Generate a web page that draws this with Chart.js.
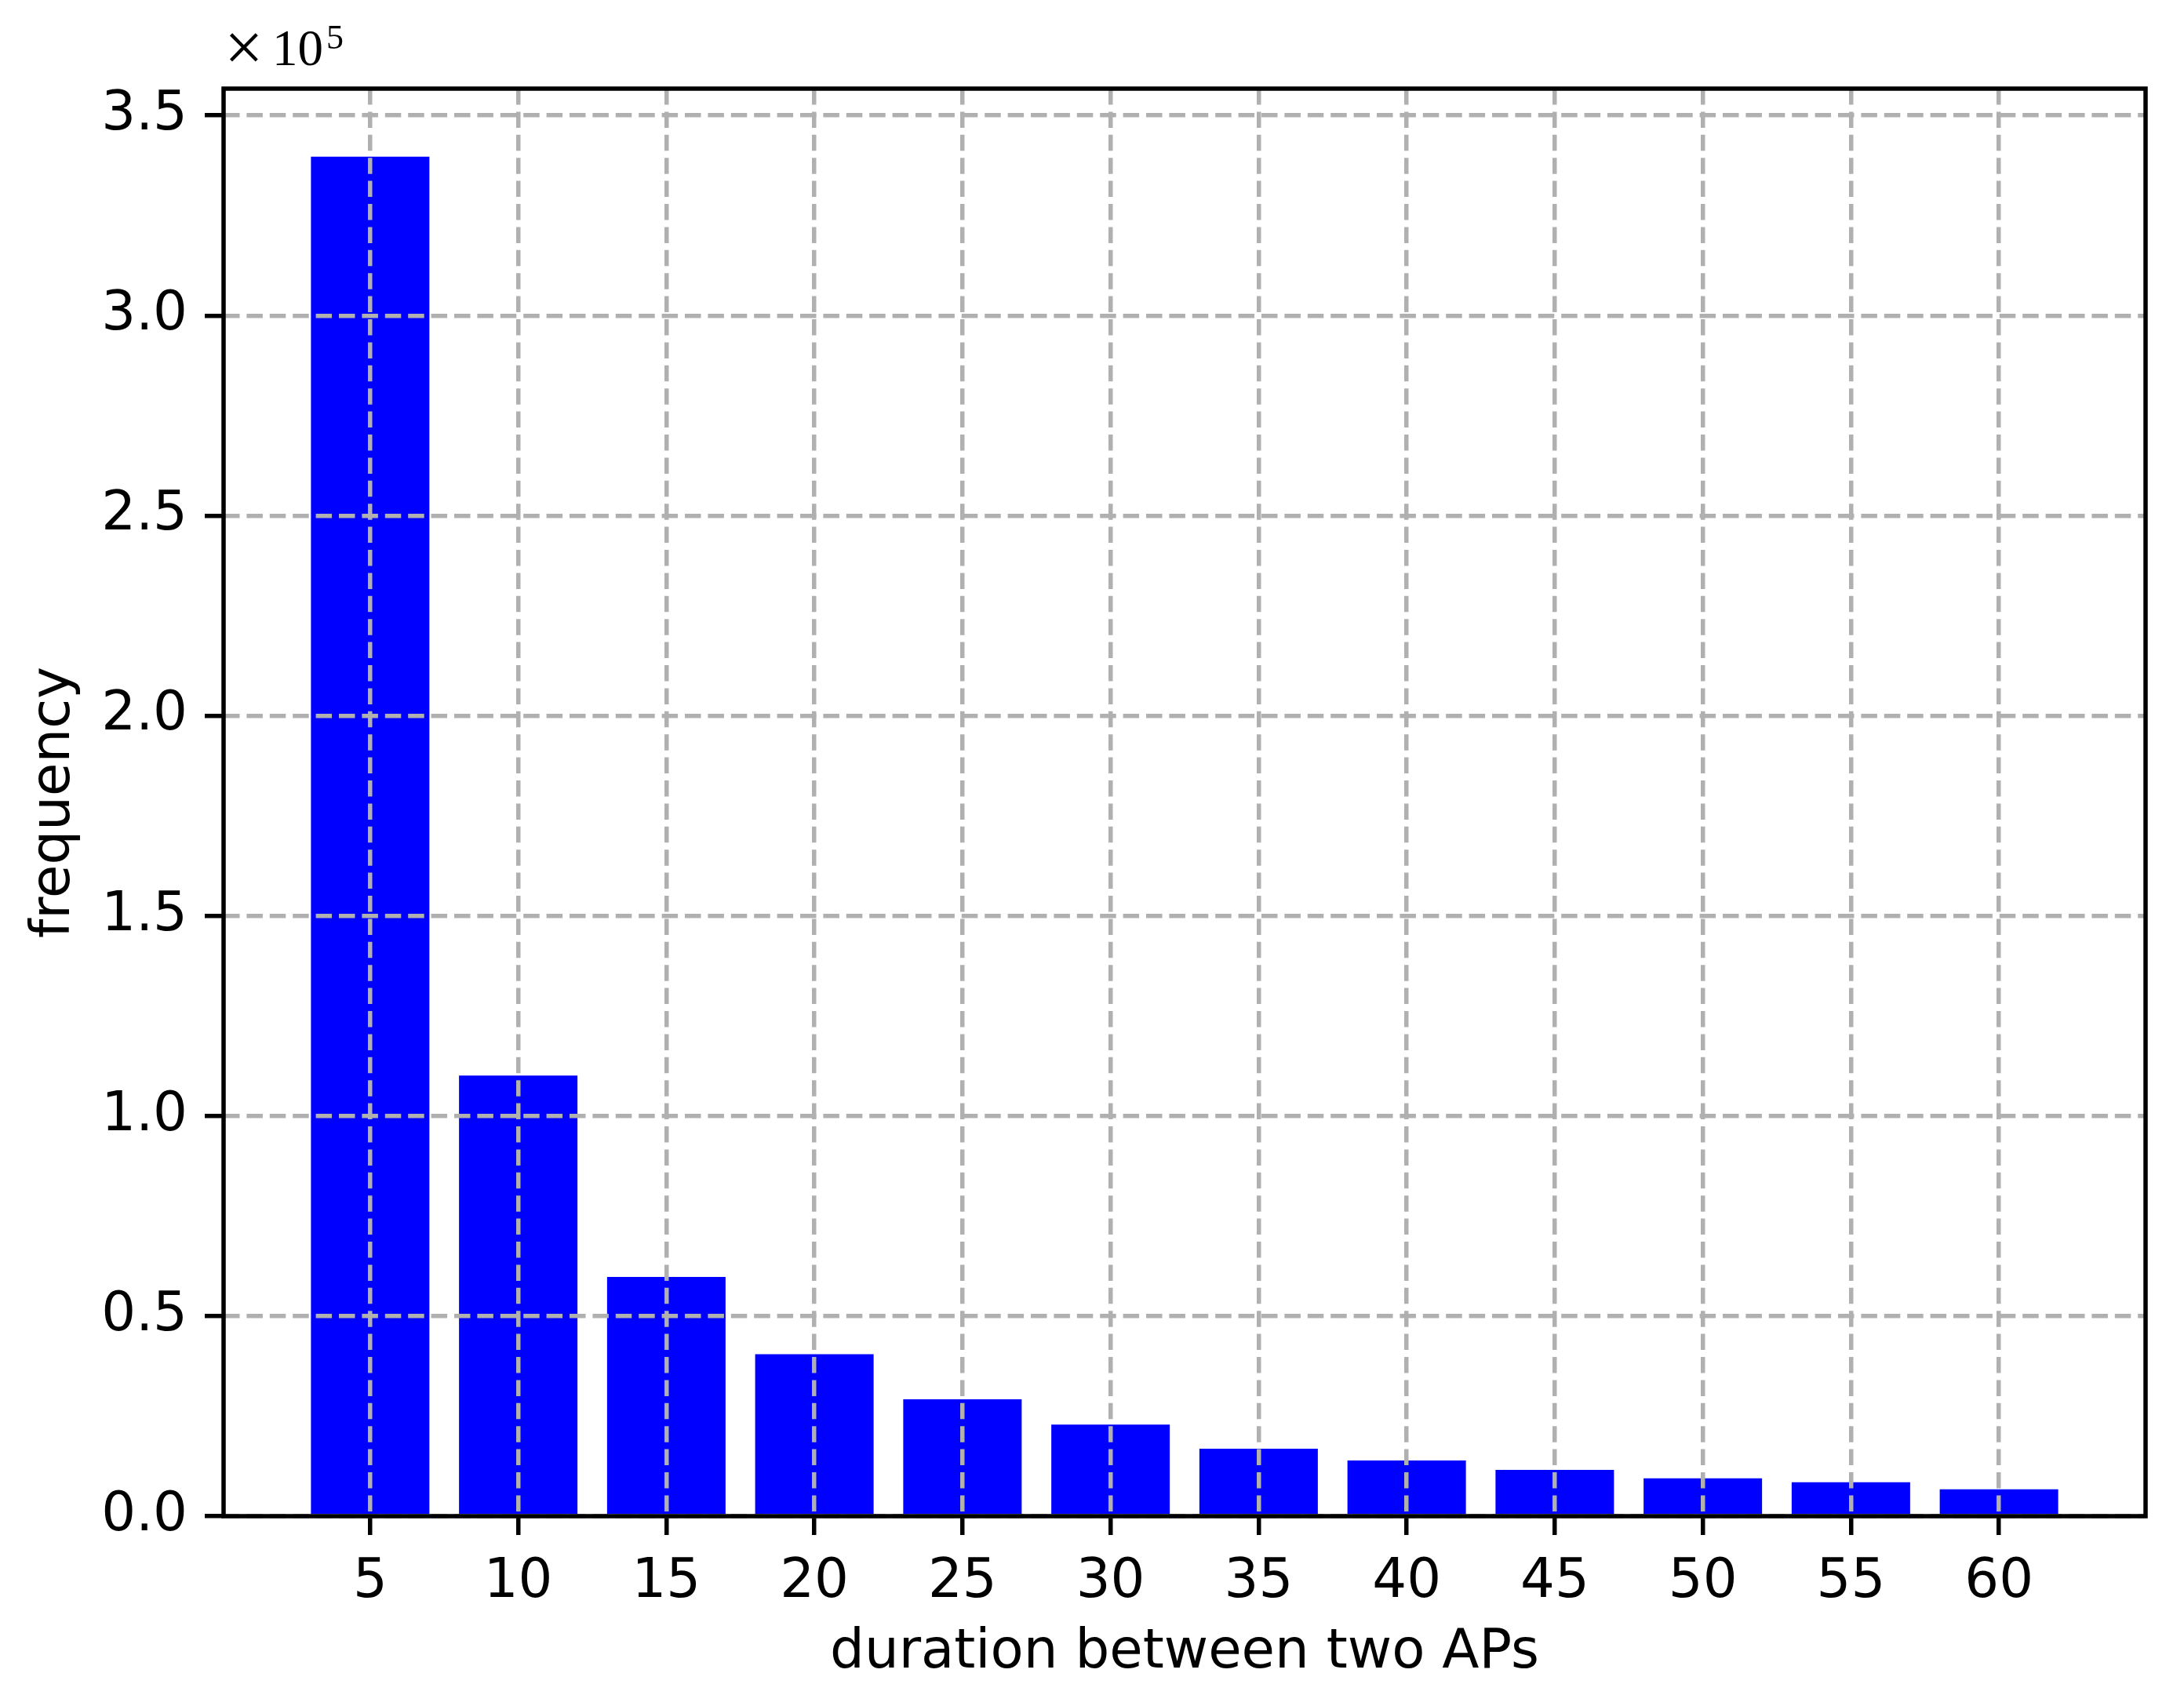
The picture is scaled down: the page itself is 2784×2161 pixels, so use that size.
<!DOCTYPE html>
<html>
<head>
<meta charset="utf-8">
<script src="https://cdn.jsdelivr.net/npm/chart.js@4.4.0/dist/chart.umd.min.js"></script>
<style>
  html, body { margin: 0; padding: 0; background: #ffffff; }
  #wrap { width: 2784px; height: 2161px; position: relative; }
</style>
</head>
<body>
<div id="wrap"><canvas id="c" width="2784" height="2161"></canvas></div>
<script>
// ---- data ----
const categories = [5, 10, 15, 20, 25, 30, 35, 40, 45, 50, 55, 60];
const frequency = [339700, 110100, 59800, 40450, 29200, 22900, 16850, 13900, 11560, 9470, 8500, 6700];
const yTickValues = [0, 50000, 100000, 150000, 200000, 250000, 300000, 350000];
const yTickLabels = ['0.0', '0.5', '1.0', '1.5', '2.0', '2.5', '3.0', '3.5'];
const xTickLabels = ['5', '10', '15', '20', '25', '30', '35', '40', '45', '50', '55', '60'];
const xTitle = 'duration between two APs';
const yTitle = 'frequency';

const LW = 5.5;
const GRID = '#b0b0b0';
const FONT = 'DejaVu Sans';

Chart.defaults.font.family = FONT;
Chart.defaults.color = '#000000';

const framePlugin = {
  id: 'frame',
  afterDraw(chart) {
    const { ctx, chartArea: a } = chart;
    ctx.save();
    ctx.strokeStyle = '#000000';
    ctx.lineWidth = LW;
    ctx.setLineDash([]);
    ctx.strokeRect(a.left, a.top, a.right - a.left, a.bottom - a.top);
    // offset text (×10^5)
    ctx.fillStyle = '#000000';
    ctx.textBaseline = 'alphabetic';
    ctx.textAlign = 'left';
    ctx.font = '88px "Liberation Serif"';
    ctx.fillText('\u00D7', 286, 90);
    ctx.font = '65px "Liberation Serif"';
    ctx.fillText('10', 347, 83);
    const w = ctx.measureText('10').width;
    ctx.font = '44px "Liberation Serif"';
    ctx.fillText('5', 347 + w + 4, 62);
    ctx.restore();
  }
};

new Chart(document.getElementById('c'), {
  type: 'bar',
  data: {
    datasets: [{
      data: categories.map((c, i) => ({ x: c, y: frequency[i] })),
      backgroundColor: '#0000ff',
      borderWidth: 0,
      categoryPercentage: 1.0,
      barPercentage: 0.8
    }]
  },
  options: {
    responsive: false,
    animation: false,
    devicePixelRatio: 1,
    layout: { padding: { left: 0, top: 113, right: 49, bottom: 0 } },
    plugins: { legend: { display: false }, tooltip: { enabled: false } },
    scales: {
      x: {
        type: 'linear',
        offset: false,
        min: 0.05,
        max: 64.95,
        afterBuildTicks(scale) { scale.ticks = categories.map(v => ({ value: v })); },
        afterFit(scale) { scale.height = 228; },
        ticks: {
          autoSkip: false,
          maxRotation: 0,
          padding: 20,
          font: { size: 69 },
          color: '#000000',
          callback: (v, i) => xTickLabels[i]
        },
        grid: {
          z: 1,
          offset: false,
          color: GRID,
          lineWidth: LW,
          tickColor: '#000000',
          tickWidth: LW,
          tickLength: 24,
          drawTicks: true
        },
        border: { display: false, dash: [20.5, 8.9] },
        title: {
          display: true,
          text: xTitle,
          font: { size: 69 },
          color: '#000000',
          padding: { top: 0, bottom: 12 }
        }
      },
      y: {
        min: 0,
        max: 356700,
        afterBuildTicks(scale) { scale.ticks = yTickValues.map(v => ({ value: v })); },
        afterFit(scale) { scale.width = 285; },
        ticks: {
          padding: 22,
          font: { size: 69 },
          color: '#000000',
          callback: (v, i) => yTickLabels[i]
        },
        grid: {
          z: 1,
          color: GRID,
          lineWidth: LW,
          tickColor: '#000000',
          tickWidth: LW,
          tickLength: 24,
          drawTicks: true
        },
        border: { display: false, dash: [20.5, 8.9] },
        title: {
          display: true,
          text: yTitle,
          font: { size: 69 },
          color: '#000000',
          padding: { top: 29, bottom: 0 }
        }
      }
    }
  },
  plugins: [framePlugin]
});
</script>
</body>
</html>
